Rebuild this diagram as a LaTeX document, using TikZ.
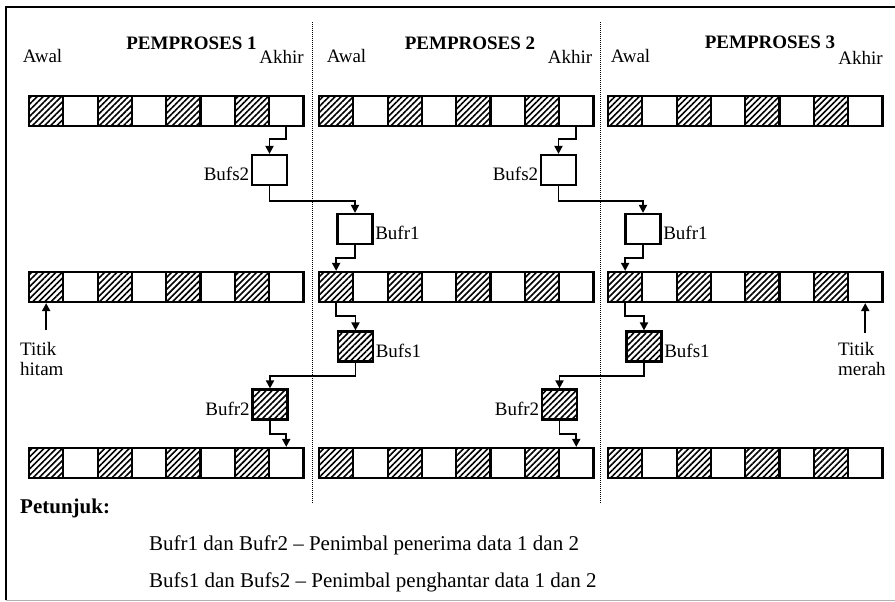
\documentclass[tikz,border=0pt]{standalone}
\usepackage{fontspec}
\setmainfont{Liberation Serif}
\usetikzlibrary{arrows.meta,patterns.meta,positioning,calc}

\begin{document}
\begin{tikzpicture}[
  x=1pt, y=-1pt,
  font=\fontsize{19}{20}\selectfont,
  cell/.style={rectangle, draw, line width=2.2pt, minimum width=34.3pt, minimum height=30pt, inner sep=0pt},
  hatchcell/.style={cell, pattern={Lines[angle=45,distance=4.3pt,line width=1.6pt]}},
  bufbox/.style={rectangle, draw, line width=2.2pt, minimum width=35pt, minimum height=30pt, inner sep=0pt},
  hatchbuf/.style={bufbox, pattern={Lines[angle=45,distance=4.3pt,line width=1.6pt]}},
  buflabel/.style={inner sep=1.5pt, yshift=-4pt},
  arrow/.style={-{Triangle[length=8pt,width=8pt]}, line width=1.9pt},
  headlabel/.style={font=\fontsize{19}{20}\selectfont\bfseries, anchor=base},
  endlabel/.style={anchor=base},
  notetext/.style={font=\fontsize{21}{24}\selectfont, anchor=base west, inner sep=0pt},
]
\useasboundingbox (0,0) rectangle (895,602);

% frame and dotted separators
\draw[line width=1.8pt] (895,7) -- (6,7) -- (6,600);
\draw[gray!60, line width=1pt] (6,600) -- (895,600);
\draw[line width=1.5pt, dash pattern=on 1pt off 1pt] (312.5,22) -- (312.5,503);
\draw[line width=1.5pt, dash pattern=on 1pt off 1pt] (600.5,22) -- (600.5,503);

% headers
\node[headlabel] (head-1) at (191.5,50) {PEMPROSES 1};
\node[headlabel] (head-2) at (470,50) {PEMPROSES 2};
\node[headlabel] (head-3) at (770,49) {PEMPROSES 3};
\node[endlabel] (awal-1) at (42.5,63) {Awal};
\node[endlabel] (akhir-1) at (281.5,64) {Akhir};
\node[endlabel] (awal-2) at (346.5,63) {Awal};
\node[endlabel] (akhir-2) at (570,64) {Akhir};
\node[endlabel] (awal-3) at (630.5,63) {Awal};
\node[endlabel] (akhir-3) at (860.5,65) {Akhir};

% data arrays: row r, processor p, cell k
\foreach \p/\xs in {1/29,2/319,3/608}
  \foreach \r/\yt in {1/96,2/272,3/448} {
    \foreach \k in {1,3,5,7}
      \node[hatchcell] (c-\r-\p-\k) at ({\xs+(\k-0.5)*34.3},{\yt+15}) {};
    \foreach \k in {2,4,6,8}
      \node[cell] (c-\r-\p-\k) at ({\xs+(\k-0.5)*34.3},{\yt+15}) {};
  }

% buffers
\node[bufbox] (bs2-1) at (269.5,170) {};
\node[bufbox] (br1-2) at (355,229) {};
\node[hatchbuf] (bs1-2) at (355.5,346.5) {};
\node[hatchbuf] (br2-1) at (270,404.5) {};
\node[bufbox] (bs2-2) at (558.5,170) {};
\node[bufbox] (br1-3) at (643,229) {};
\node[hatchbuf] (bs1-3) at (644,346.5) {};
\node[hatchbuf] (br2-2) at (559.5,404.5) {};
\node[buflabel, left=0pt of bs2-1] {Bufs2};
\node[buflabel, right=0pt of br1-2] {Bufr1};
\node[buflabel, right=0pt of bs1-2] {Bufs1};
\node[buflabel, left=0pt of br2-1] {Bufr2};
\node[buflabel, left=0pt of bs2-2] {Bufs2};
\node[buflabel, right=0pt of br1-3] {Bufr1};
\node[buflabel, right=0pt of bs1-3] {Bufs1};
\node[buflabel, left=0pt of br2-2] {Bufr2};

% exchange 1 -> 2
\draw[arrow] (c-1-1-8.south) -- ++(0,12) -| (bs2-1.north);
\draw[arrow] (bs2-1.south) -- ++(0,15) -| (br1-2.north);
\draw[arrow] (br1-2.south) -- ++(0,13) -| (c-2-2-1.north);
\draw[arrow] (c-2-2-1.south) -- ++(0,13) -| (bs1-2.north);
\draw[arrow] (bs1-2.south) -- ++(0,13) -| (br2-1.north);
\draw[arrow] (br2-1.south) -- ++(0,13) -| (c-3-1-8.north);
% exchange 2 -> 3
\draw[arrow] (c-1-2-8.south) -- ++(0,12) -| (bs2-2.north);
\draw[arrow] (bs2-2.south) -- ++(0,15) -| (br1-3.north);
\draw[arrow] (br1-3.south) -- ++(0,13) -| (c-2-3-1.north);
\draw[arrow] (c-2-3-1.south) -- ++(0,13) -| (bs1-3.north);
\draw[arrow] (bs1-3.south) -- ++(0,13) -| (br2-2.north);
\draw[arrow] (br2-2.south) -- ++(0,13) -| (c-3-2-8.north);

% end points
\node[anchor=north west, align=left, inner sep=0pt] (hitam) at (20,342) {Titik\\hitam};
\node[anchor=north west, align=left, inner sep=0pt] (merah) at (838,342) {Titik\\merah};
\coordinate (hitam-tip) at ([yshift=-27pt]c-2-1-1.south);
\coordinate (merah-tip) at ([yshift=-30pt]c-2-3-8.south);
\draw[arrow] (hitam-tip) -- (c-2-1-1.south);
\draw[arrow] (merah-tip) -- (c-2-3-8.south);

% legend
\node[notetext, font=\fontsize{21}{24}\selectfont\bfseries] (note) at (20,513) {Petunjuk:};
\node[notetext] (note-r) at (149,550) {Bufr1 dan Bufr2 -- Penimbal penerima data 1 dan 2};
\node[notetext] (note-s) at (149,587) {Bufs1 dan Bufs2 -- Penimbal penghantar data 1 dan 2};

\end{tikzpicture}
\end{document}
